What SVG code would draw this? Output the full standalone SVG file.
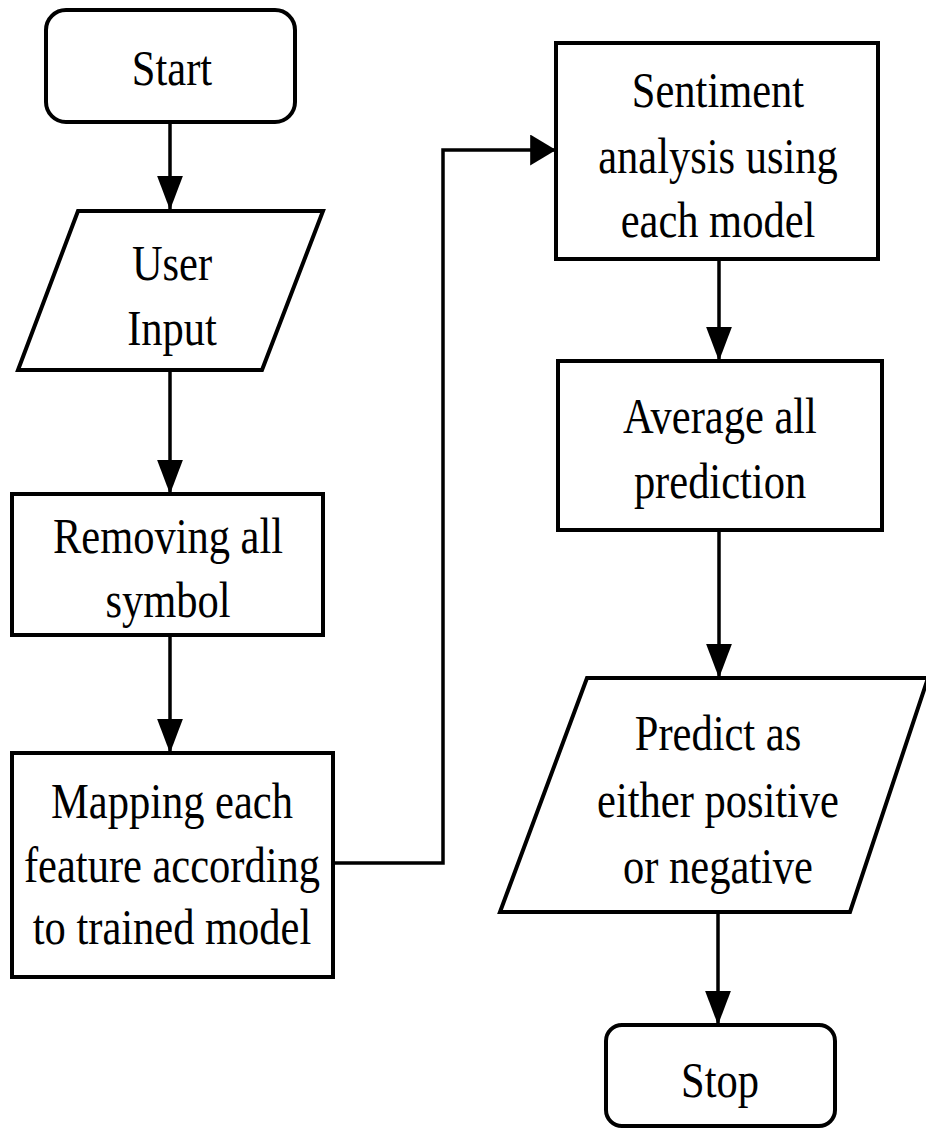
<svg xmlns="http://www.w3.org/2000/svg" width="926" height="1128" viewBox="0 0 926 1128">
  <defs>
    <!-- downward arrowhead -->
    <marker id="arrow" markerUnits="userSpaceOnUse" markerWidth="34" markerHeight="26" viewBox="0 0 33 25" refX="33" refY="12.5" orient="auto">
      <path d="M0,0 L33,12.5 L0,25 Z" fill="#000"/>
    </marker>
    <!-- rightward arrowhead: shorter and taller -->
    <marker id="arrow-h" markerUnits="userSpaceOnUse" markerWidth="26" markerHeight="31" viewBox="0 0 25 30" refX="25" refY="15" orient="auto">
      <path d="M0,0 L25,15 L0,30 Z" fill="#000"/>
    </marker>
    <style>
      .shape { fill: #fff; stroke: #000; stroke-width: 4; stroke-linejoin: miter; }
      .edge { fill: none; stroke: #000; stroke-width: 3.5; marker-end: url(#arrow); }
      .edge.h { marker-end: url(#arrow-h); }
      .label { font-family: "Liberation Serif", "Times New Roman", serif; font-size: 50px; fill: #000; text-anchor: middle; }
    </style>
  </defs>
  <rect width="926" height="1128" fill="#fff"/>

  <!-- connectors -->
  <g id="connectors">
    <path class="edge" d="M170,122 V210"/>
    <path class="edge" d="M170,370 V494"/>
    <path class="edge" d="M170,635 V753"/>
    <path class="edge h" d="M333,863 H443 V150 H556"/>
    <path class="edge" d="M719,259 V361"/>
    <path class="edge" d="M719,530 V678"/>
    <path class="edge" d="M718,912 V1025"/>
  </g>

  <g id="start">
    <rect class="shape" x="46" y="10" width="249" height="112" rx="20"/>
    <text class="label" transform="translate(172,85) scale(0.85,1)">Start</text>
  </g>

  <g id="user-input">
    <polygon class="shape" points="78,211 323,211 262,370 18,370"/>
    <text class="label" transform="translate(172,280) scale(0.85,1)">User</text>
    <text class="label" transform="translate(172,345) scale(0.85,1)">Input</text>
  </g>

  <g id="remove-symbols">
    <rect class="shape" x="12" y="494" width="311" height="141"/>
    <text class="label" transform="translate(168,553) scale(0.85,1)">Removing all</text>
    <text class="label" transform="translate(168,617) scale(0.85,1)">symbol</text>
  </g>

  <g id="map-features">
    <rect class="shape" x="12" y="753" width="321" height="224"/>
    <text class="label" transform="translate(172,818) scale(0.85,1)">Mapping each</text>
    <text class="label" transform="translate(172,882) scale(0.85,1)">feature according</text>
    <text class="label" transform="translate(172,944) scale(0.85,1)">to trained model</text>
  </g>

  <g id="sentiment-analysis">
    <rect class="shape" x="556" y="43" width="322" height="216"/>
    <text class="label" transform="translate(718,107) scale(0.85,1)">Sentiment</text>
    <text class="label" transform="translate(718,173) scale(0.85,1)">analysis using</text>
    <text class="label" transform="translate(718,237) scale(0.85,1)">each model</text>
  </g>

  <g id="average">
    <rect class="shape" x="558" y="361" width="324" height="169"/>
    <text class="label" transform="translate(720,433) scale(0.85,1)">Average all</text>
    <text class="label" transform="translate(720,498) scale(0.85,1)">prediction</text>
  </g>

  <g id="predict">
    <polygon class="shape" points="587,678 928,678 850,912 500,912"/>
    <text class="label" transform="translate(718,750) scale(0.85,1)">Predict as</text>
    <text class="label" transform="translate(718,817) scale(0.85,1)">either positive</text>
    <text class="label" transform="translate(718,883) scale(0.85,1)">or negative</text>
  </g>

  <g id="stop">
    <rect class="shape" x="606" y="1025" width="229" height="101" rx="16"/>
    <text class="label" transform="translate(720,1097) scale(0.85,1)">Stop</text>
  </g>
</svg>
